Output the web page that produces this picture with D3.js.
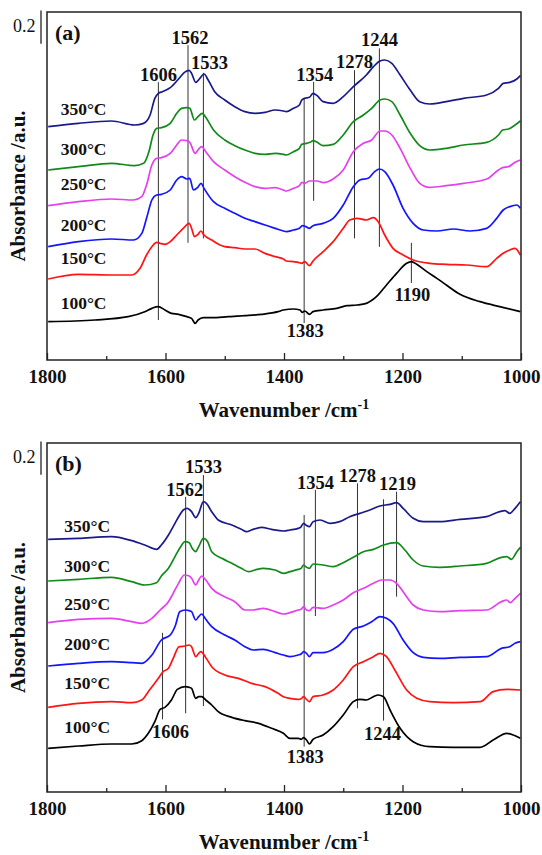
<!DOCTYPE html>
<html>
<head>
<meta charset="utf-8">
<script src="https://cdn.jsdelivr.net/npm/d3@7"></script>
<style>
    body { margin: 0; background: #fff; }
    svg text { font-family: "Times New Roman", "Liberation Serif", serif; fill: #111; }
    .curve { fill: none; stroke-width: 1.7; stroke-linejoin: round; }
    .peakLine { stroke: #333; stroke-width: 1; }
    .frame { fill: none; stroke: #222; stroke-width: 1.5; }
    .tick line { stroke: #222; stroke-width: 1.3; }
    .scaleBar { stroke: #222; stroke-width: 1.3; }
</style>
</head>
<body>
<script>
(function(){

    //temperatures and line colours, top curve first
    var temps = ["350°C", "300°C", "250°C", "200°C", "150°C", "100°C"];
    var colors = ["#1a1a8a", "#128a1a", "#e440ee", "#1414ff", "#ff1414", "#000000"];

    //x axis ticks (cm-1)
    var majorTicks = [1800, 1600, 1400, 1200, 1000];
    var minorTicks = [1700, 1500, 1300, 1100];

    //panel (a) spectra: [wavenumber, absorbance incl. stacking offset]
    var a350 = [[1798,1.57],[1747,1.59],[1691,1.604],[1652,1.58],[1637,1.59],[1626,1.64],[1618,1.74],[1612,1.77],[1605,1.78],[1592,1.804],[1578,1.856],[1568,1.896],[1560,1.908],[1556,1.89],[1549,1.836],[1542,1.86],[1535,1.886],[1528,1.85],[1517,1.78],[1500,1.73],[1483,1.69],[1466,1.66],[1449,1.65],[1432,1.656],[1415,1.67],[1401,1.664],
        [1396,1.66],[1384,1.68],[1374,1.70],[1370,1.73],[1365,1.74],[1357,1.746],[1351,1.77],[1344,1.756],[1334,1.72],[1317,1.71],[1300,1.75],[1283,1.81],[1261,1.88],[1249,1.93],[1238,1.964],[1230,1.97],[1218,1.95],[1204,1.88],[1187,1.79],[1171,1.72],[1154,1.706],[1126,1.72],[1097,1.74],[1058,1.76],[1038,1.80],[1030,1.83],[1019,1.836],[1007,1.856],[1001,1.876]];
    var a300 = [[1798,1.31],[1747,1.33],[1691,1.35],[1652,1.336],[1637,1.35],[1628,1.42],[1621,1.52],[1615,1.56],[1607,1.564],[1592,1.59],[1581,1.65],[1573,1.68],[1564,1.684],[1559,1.68],[1551,1.61],[1545,1.63],[1538,1.65],[1531,1.62],[1519,1.55],[1500,1.49],[1483,1.456],[1466,1.43],[1449,1.41],[1432,1.404],[1415,1.41],[1401,1.404],
        [1396,1.40],[1384,1.42],[1374,1.44],[1370,1.464],[1365,1.468],[1356,1.476],[1351,1.486],[1344,1.476],[1334,1.456],[1317,1.464],[1300,1.52],[1283,1.60],[1266,1.64],[1252,1.68],[1238,1.73],[1230,1.736],[1218,1.72],[1204,1.64],[1187,1.53],[1171,1.456],[1154,1.43],[1126,1.44],[1097,1.46],[1058,1.476],[1038,1.52],[1031,1.55],[1021,1.556],[1010,1.58],[1001,1.604]];
    var a250 = [[1798,1.096],[1747,1.12],[1691,1.136],[1654,1.13],[1640,1.15],[1632,1.22],[1623,1.34],[1615,1.38],[1607,1.384],[1592,1.41],[1581,1.46],[1573,1.49],[1564,1.486],[1559,1.476],[1550,1.41],[1544,1.436],[1539,1.45],[1532,1.42],[1519,1.36],[1500,1.31],[1483,1.27],[1466,1.236],[1449,1.21],[1432,1.20],[1415,1.204],[1401,1.19],
        [1396,1.184],[1384,1.20],[1374,1.216],[1370,1.236],[1365,1.23],[1357,1.244],[1351,1.244],[1344,1.244],[1334,1.234],[1317,1.256],[1300,1.31],[1283,1.42],[1266,1.47],[1252,1.49],[1238,1.544],[1230,1.544],[1218,1.52],[1204,1.44],[1187,1.32],[1171,1.23],[1154,1.206],[1126,1.216],[1097,1.23],[1058,1.256],[1038,1.31],[1031,1.324],[1021,1.33],[1010,1.356],[1001,1.37]];
    var a200 = [[1798,0.85],[1747,0.88],[1691,0.896],[1654,0.89],[1640,0.93],[1632,1.02],[1623,1.13],[1615,1.16],[1607,1.164],[1592,1.19],[1581,1.25],[1573,1.27],[1564,1.256],[1559,1.26],[1553,1.19],[1546,1.204],[1540,1.23],[1535,1.20],[1519,1.12],[1500,1.08],[1483,1.05],[1466,1.02],[1449,1.00],[1432,0.98],[1415,0.96],[1401,0.944],
        [1396,0.94],[1384,0.95],[1374,0.96],[1369,0.976],[1363,0.97],[1357,0.96],[1351,0.976],[1334,0.99],[1317,1.02],[1300,1.10],[1283,1.21],[1272,1.25],[1258,1.26],[1247,1.30],[1239,1.316],[1230,1.30],[1216,1.22],[1199,1.08],[1182,0.99],[1165,0.95],[1142,0.944],[1114,0.956],[1086,0.944],[1058,0.96],[1041,1.02],[1030,1.07],[1019,1.09],[1007,1.10],[1001,1.08]];
    var a150 = [[1798,0.656],[1747,0.684],[1691,0.68],[1657,0.68],[1643,0.72],[1632,0.80],[1623,0.85],[1615,0.876],[1609,0.87],[1601,0.864],[1592,0.88],[1581,0.92],[1570,0.96],[1560,0.99],[1556,0.96],[1551,0.91],[1545,0.924],[1540,0.944],[1535,0.92],[1522,0.89],[1508,0.86],[1500,0.85],[1483,0.844],[1466,0.836],[1449,0.836],[1432,0.81],[1415,0.79],[1401,0.776],
        [1396,0.764],[1384,0.76],[1376,0.756],[1370,0.75],[1365,0.76],[1357,0.736],[1351,0.764],[1334,0.82],[1317,0.88],[1300,0.96],[1289,1.01],[1277,1.02],[1261,1.01],[1249,1.024],[1241,1.00],[1230,0.92],[1216,0.84],[1199,0.80],[1182,0.77],[1154,0.75],[1126,0.744],[1092,0.74],[1058,0.73],[1041,0.78],[1030,0.81],[1019,0.83],[1010,0.84],[1001,0.80]];
    var a100 = [[1798,0.40],[1719,0.41],[1663,0.43],[1635,0.46],[1623,0.48],[1612,0.49],[1601,0.47],[1590,0.45],[1578,0.444],[1564,0.43],[1556,0.42],[1550,0.39],[1545,0.41],[1536,0.424],[1522,0.424],[1494,0.43],[1466,0.436],[1438,0.444],[1410,0.46],[1401,0.47],
        [1384,0.476],[1373,0.47],[1369,0.456],[1365,0.464],[1357,0.444],[1351,0.46],[1334,0.47],[1311,0.48],[1294,0.496],[1277,0.50],[1261,0.51],[1244,0.55],[1227,0.62],[1210,0.69],[1193,0.75],[1185,0.76],[1176,0.744],[1159,0.70],[1142,0.66],[1126,0.62],[1103,0.564],[1069,0.52],[1036,0.49],[1001,0.46]];

    //panel (b) spectra
    var b350 = [[1798,1.584],[1747,1.59],[1691,1.60],[1657,1.576],[1635,1.55],[1615,1.524],[1607,1.55],[1595,1.61],[1584,1.68],[1576,1.73],[1570,1.76],[1563,1.77],[1556,1.75],[1549,1.714],[1544,1.74],[1536,1.81],[1531,1.80],[1522,1.75],[1511,1.70],[1488,1.67],[1472,1.644],[1463,1.63],[1455,1.64],[1438,1.656],[1421,1.644],[1401,1.634],
        [1390,1.64],[1376,1.65],[1372,1.656],[1367,1.68],[1363,1.67],[1357,1.66],[1351,1.69],[1339,1.70],[1322,1.68],[1306,1.69],[1289,1.72],[1272,1.74],[1255,1.76],[1238,1.784],[1221,1.794],[1210,1.804],[1199,1.77],[1182,1.71],[1165,1.69],[1137,1.69],[1103,1.704],[1058,1.72],[1036,1.75],[1027,1.756],[1019,1.74],[1010,1.77],[1001,1.81]];
    var b300 = [[1798,1.334],[1747,1.344],[1691,1.356],[1657,1.33],[1635,1.31],[1615,1.324],[1607,1.364],[1595,1.41],[1584,1.48],[1576,1.53],[1567,1.57],[1560,1.564],[1555,1.53],[1549,1.51],[1544,1.54],[1536,1.59],[1529,1.57],[1522,1.51],[1505,1.47],[1488,1.44],[1472,1.41],[1460,1.39],[1449,1.40],[1435,1.41],[1415,1.40],[1401,1.38],
        [1390,1.39],[1376,1.404],[1371,1.41],[1367,1.43],[1362,1.416],[1357,1.41],[1351,1.436],[1334,1.43],[1317,1.42],[1300,1.444],[1283,1.476],[1266,1.51],[1249,1.524],[1232,1.55],[1210,1.564],[1196,1.52],[1182,1.46],[1165,1.424],[1137,1.416],[1103,1.424],[1058,1.44],[1033,1.476],[1024,1.48],[1016,1.464],[1007,1.51],[1001,1.536]];
    var b250 = [[1798,1.084],[1747,1.104],[1691,1.11],[1657,1.09],[1640,1.08],[1623,1.11],[1609,1.16],[1595,1.21],[1587,1.26],[1578,1.32],[1568,1.37],[1560,1.364],[1556,1.35],[1549,1.31],[1544,1.34],[1539,1.364],[1532,1.34],[1522,1.29],[1500,1.24],[1483,1.21],[1466,1.16],[1452,1.16],[1435,1.17],[1415,1.15],[1401,1.136],
        [1390,1.144],[1376,1.16],[1371,1.164],[1367,1.18],[1362,1.16],[1357,1.156],[1351,1.176],[1334,1.17],[1317,1.19],[1300,1.22],[1283,1.264],[1266,1.29],[1249,1.32],[1235,1.34],[1221,1.34],[1210,1.32],[1199,1.27],[1182,1.19],[1165,1.16],[1137,1.15],[1103,1.156],[1058,1.16],[1033,1.21],[1024,1.22],[1018,1.204],[1010,1.23],[1001,1.26]];
    var b200 = [[1798,0.824],[1747,0.84],[1691,0.85],[1657,0.844],[1640,0.84],[1623,0.89],[1607,0.98],[1592,1.01],[1583,1.07],[1576,1.15],[1567,1.16],[1560,1.156],[1556,1.15],[1549,1.10],[1544,1.12],[1539,1.136],[1532,1.104],[1522,1.06],[1500,1.01],[1483,0.98],[1466,0.94],[1452,0.92],[1435,0.924],[1415,0.904],[1401,0.89],
        [1390,0.88],[1376,0.89],[1371,0.896],[1367,0.91],[1362,0.90],[1357,0.88],[1351,0.904],[1334,0.904],[1317,0.924],[1300,0.97],[1283,1.044],[1266,1.064],[1252,1.09],[1238,1.12],[1227,1.11],[1216,1.08],[1199,0.98],[1182,0.904],[1165,0.876],[1137,0.87],[1103,0.876],[1058,0.88],[1033,0.93],[1019,0.94],[1010,0.96],[1001,0.97]];
    var b150 = [[1798,0.576],[1747,0.60],[1691,0.61],[1657,0.604],[1640,0.62],[1629,0.67],[1612,0.75],[1604,0.79],[1595,0.81],[1587,0.87],[1577,0.94],[1567,0.944],[1560,0.95],[1556,0.94],[1549,0.88],[1544,0.90],[1540,0.91],[1533,0.88],[1522,0.82],[1500,0.77],[1477,0.75],[1455,0.72],[1432,0.70],[1410,0.66],[1401,0.64],
        [1390,0.63],[1376,0.624],[1371,0.628],[1367,0.64],[1362,0.624],[1357,0.61],[1351,0.64],[1334,0.65],[1317,0.68],[1300,0.74],[1283,0.82],[1266,0.85],[1249,0.88],[1238,0.90],[1227,0.88],[1213,0.80],[1193,0.68],[1176,0.63],[1154,0.61],[1114,0.604],[1069,0.61],[1047,0.67],[1024,0.684],[1001,0.68]];
    var b100 = [[1798,0.33],[1747,0.344],[1691,0.356],[1657,0.356],[1640,0.376],[1629,0.42],[1618,0.49],[1609,0.564],[1601,0.576],[1590,0.62],[1580,0.684],[1567,0.70],[1560,0.696],[1556,0.69],[1549,0.63],[1544,0.64],[1539,0.64],[1532,0.62],[1522,0.59],[1511,0.55],[1488,0.516],[1466,0.496],[1443,0.48],[1421,0.45],[1401,0.42],
        [1390,0.39],[1376,0.39],[1371,0.384],[1367,0.394],[1362,0.38],[1357,0.356],[1351,0.384],[1334,0.41],[1317,0.46],[1300,0.53],[1283,0.61],[1272,0.624],[1261,0.62],[1249,0.64],[1241,0.65],[1232,0.64],[1221,0.56],[1204,0.45],[1182,0.37],[1154,0.34],[1114,0.336],[1069,0.336],[1047,0.38],[1024,0.42],[1013,0.41],[1001,0.39]];

    //peak markers: label text and wavenumber where the line is drawn
    var peakLabelsA = ["1606", "1562", "1533", "1354", "1383", "1278", "1244", "1190"];
    var peakPosA = [1612, 1562, 1536, 1350, 1366, 1281, 1239, 1185];
    var peakLabelsB = ["1606", "1562", "1533", "1383", "1354", "1278", "1244", "1219"];
    var peakPosB = [1605, 1566, 1536, 1366, 1347, 1276, 1232, 1210];

    var scaleBarValue = 0.2;

    //begin script when window loads
    window.onload = setChart;

    function setChart(){
        var width = 542,
            height = 855;

        var svg = d3.select("body")
            .append("svg")
            .attr("width", width)
            .attr("height", height);

        //annotation layout: marker line extents (absorbance) and label nudges (px)
        var layoutA = [
            {y1: 0.41, y2: 1.837, side: "top", dx: 0, dy: -1},
            {y1: 0.873, y2: 2.059, side: "top", dx: 2, dy: -1},
            {y1: 0.90, y2: 1.893, side: "top", dx: 6, dy: -4},
            {y1: 1.125, y2: 1.839, side: "top", dx: 1, dy: -1},
            {y1: 0.392, y2: 1.743, side: "bottom", dx: 1, dy: 14},
            {y1: 0.90, y2: 1.909, side: "top", dx: 0, dy: -2},
            {y1: 0.849, y2: 2.04, side: "top", dx: 0, dy: -2},
            {y1: 0.632, y2: 0.873, side: "bottom", dx: 1, dy: 18}
        ];
        var layoutB = [
            {y1: 0.504, y2: 1.023, side: "bottom", dx: 8, dy: 19},
            {y1: 0.54, y2: 1.839, side: "top", dx: -1, dy: -1},
            {y1: 0.584, y2: 1.97, side: "top", dx: 0, dy: -2},
            {y1: 0.34, y2: 1.73, side: "bottom", dx: 1, dy: 16},
            {y1: 1.124, y2: 1.88, side: "top", dx: 0, dy: -1},
            {y1: 0.57, y2: 1.92, side: "top", dx: 0, dy: -1},
            {y1: 0.496, y2: 1.824, side: "bottom", dx: -1, dy: 19},
            {y1: 1.24, y2: 1.87, side: "top", dx: 1, dy: -2}
        ];

        drawPanel(svg, {
            tag: "(a)", top: 12, bottom: 360, yMin: 0.17, yMax: 2.258,
            series: [a350, a300, a250, a200, a150, a100],
            labels: peakLabelsA, pos: peakPosA, layout: layoutA,
            tempX: 1777, tempY: [1.64, 1.40, 1.19, 0.945, 0.744, 0.474]
        });
        drawPanel(svg, {
            tag: "(b)", top: 443, bottom: 792, yMin: 0.068, yMax: 2.162,
            series: [b350, b300, b250, b200, b150, b100],
            labels: peakLabelsB, pos: peakPosB, layout: layoutB,
            tempX: 1771, tempY: [1.63, 1.39, 1.16, 0.92, 0.684, 0.42]
        });
    };

    function drawPanel(svg, p){
        var left = 47, right = 521;

        var x = d3.scaleLinear()
            .domain([1800, 1000])
            .range([left, right]);

        var y = d3.scaleLinear()
            .domain([p.yMin, p.yMax])
            .range([p.bottom, p.top]);

        var line = d3.line()
            .x(function(d){ return x(d[0]); })
            .y(function(d){ return y(d[1]); })
            .curve(d3.curveMonotoneX);

        var panel = svg.append("g");

        //peak marker lines (drawn under the curves)
        panel.selectAll(null)
            .data(p.pos)
            .enter()
            .append("line")
            .attr("class", "peakLine")
            .attr("x1", function(d){ return x(d); })
            .attr("x2", function(d){ return x(d); })
            .attr("y1", function(d, i){ return y(p.layout[i].y1); })
            .attr("y2", function(d, i){ return y(p.layout[i].y2); });

        //spectra
        panel.selectAll(null)
            .data(p.series)
            .enter()
            .append("path")
            .attr("class", "curve")
            .attr("d", line)
            .style("stroke", function(d, i){ return colors[i]; });

        //peak labels
        panel.selectAll(null)
            .data(p.labels)
            .enter()
            .append("text")
            .attr("text-anchor", "middle")
            .attr("x", function(d, i){ return x(p.pos[i]) + p.layout[i].dx; })
            .attr("y", function(d, i){
                var l = p.layout[i];
                return (l.side == "top" ? y(l.y2) : y(l.y1)) + l.dy;
            })
            .style("font-size", "18.5px")
            .style("font-weight", "bold")
            .text(function(d){ return d; });

        //temperature labels
        panel.selectAll(null)
            .data(temps)
            .enter()
            .append("text")
            .attr("x", x(p.tempX))
            .attr("y", function(d, i){ return y(p.tempY[i]); })
            .style("font-size", "17.5px")
            .style("font-weight", "bold")
            .text(function(d){ return d; });

        //x axis, ticks pointing inward
        var axis = panel.append("g")
            .attr("transform", "translate(0," + p.bottom + ")")
            .call(d3.axisBottom(x)
                .tickValues(majorTicks)
                .tickSize(-7)
                .tickPadding(10)
                .tickFormat(d3.format("d")));
        axis.select(".domain").remove();
        axis.selectAll("text")
            .style("font-size", "19px")
            .style("font-weight", "bold");

        var minor = panel.append("g")
            .attr("transform", "translate(0," + p.bottom + ")")
            .call(d3.axisBottom(x)
                .tickValues(minorTicks)
                .tickSize(-4)
                .tickFormat(""));
        minor.select(".domain").remove();

        //frame
        panel.append("rect")
            .attr("class", "frame")
            .attr("x", left)
            .attr("y", p.top)
            .attr("width", right - left)
            .attr("height", p.bottom - p.top);

        //panel tag
        panel.append("text")
            .attr("x", 55)
            .attr("y", p.top + 27.5)
            .style("font-size", "22px")
            .style("font-weight", "bold")
            .text(p.tag);

        //0.2 absorbance scale bar
        var barTop = p.top - 1.5;
        panel.append("line")
            .attr("class", "scaleBar")
            .attr("x1", 41).attr("x2", 41)
            .attr("y1", barTop)
            .attr("y2", barTop + (y(p.yMin) - y(p.yMin + scaleBarValue)));
        panel.append("text")
            .attr("x", 13)
            .attr("y", p.top + 20)
            .style("font-size", "18px")
            .text(String(scaleBarValue));

        //axis titles
        var xt = panel.append("text")
            .attr("text-anchor", "middle")
            .attr("x", (left + right) / 2)
            .attr("y", p.bottom + 57)
            .style("font-size", "21px")
            .style("font-weight", "bold");
        xt.append("tspan").text("Wavenumber /cm");
        xt.append("tspan")
            .attr("dy", -8)
            .style("font-size", "14px")
            .text("-1");

        panel.append("text")
            .attr("text-anchor", "middle")
            .attr("transform", "translate(25," + ((p.top + p.bottom) / 2) + ") rotate(-90)")
            .style("font-size", "21px")
            .style("font-weight", "bold")
            .text("Absorbance /a.u.");
    };

})();
</script>
</body>
</html>
